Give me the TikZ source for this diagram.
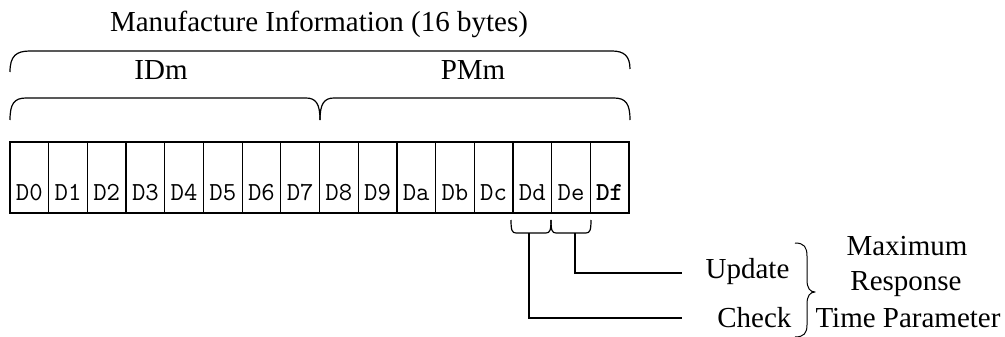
\documentclass[tikz,border=0pt]{standalone}
\usepackage{fontspec}
\setmainfont{Liberation Serif}
\begin{document}
\begin{tikzpicture}[x=1pt,y=-1pt,line width=1.2pt,
  cell/.style={draw,minimum width=38.69pt,minimum height=71pt,inner sep=0pt,outer sep=0pt},
  celltext/.style={anchor=base,inner sep=0pt,font=\ttfamily\fontsize{26}{30}\selectfont},
  lbl/.style={inner sep=0pt,font=\fontsize{29}{34}\selectfont},
  brace/.style={line width=1.2pt,line join=round}]
\useasboundingbox (0,0) rectangle (1005,337);
% title and group labels
\node[lbl,anchor=base] (title) at (319,32) {Manufacture Information (16 bytes)};
\node[lbl,anchor=base] (idm) at (161,80) {IDm};
\node[lbl,anchor=base] (pmm) at (473,80) {PMm};
% braces
\draw[brace] (10,72) .. controls (10,56) and (16,51) .. (30,51) -- (612,51)
  .. controls (624,51) and (630,56) .. (630,69);
\draw[brace] (10,120) .. controls (10,104) and (14,98) .. (26,98) -- (306,98)
  .. controls (316,98) and (320,104) .. (320,120);
\draw[brace] (320,120) .. controls (320,104) and (324,98) .. (334,98) -- (614,98)
  .. controls (626,98) and (630,104) .. (630,120);
% cells
\foreach \t [count=\i from 0] in {D0,D1,D2,D3,D4,D5,D6,D7,D8,D9,Da,Db,Dc,Dd,De,\textbf{Df}}{
  \node[cell] (c\i) at ({10+38.69*(\i+0.5)},177.5) {};
  \node[celltext] (t\i) at ([yshift=13pt]c\i.south) {\t};
}
% small brackets under Dd and De
\draw[brace] (511,220) .. controls (511,230) and (512,233) .. (516,233) -- (546,233)
  .. controls (550,233) and (551,230) .. (551,220);
\draw[brace] (551,220) .. controls (551,230) and (552,233) .. (556,233) -- (586,233)
  .. controls (590,233) and (591,230) .. (591,220);
\coordinate (bDd) at (529,233);
\coordinate (bDe) at (575,233);
% right-hand labels
\node[lbl,anchor=base east] (upd) at (790,278) {Update};
\node[lbl,anchor=base east] (chk) at (792,327) {Check};
\node[lbl,anchor=base] (max) at (907,255) {Maximum};
\node[lbl,anchor=base] (resp) at (906,290) {Response};
\node[lbl,anchor=base] (tp) at (908,327) {Time Parameter};
\coordinate (eUpd) at (682,273);
\coordinate (eChk) at (682,318);
\draw (bDe) |- (eUpd);
\draw (bDd) |- (eChk);
% curly brace
\draw[brace,line width=1pt] (795,243) .. controls (804,243) and (807,247) .. (807,256) -- (807,280)
  .. controls (807,288) and (810,292) .. (815,292)
  .. controls (810,292) and (807,296) .. (807,304) -- (807,325)
  .. controls (807,333) and (804,337) .. (795,337);
\end{tikzpicture}
\end{document}
